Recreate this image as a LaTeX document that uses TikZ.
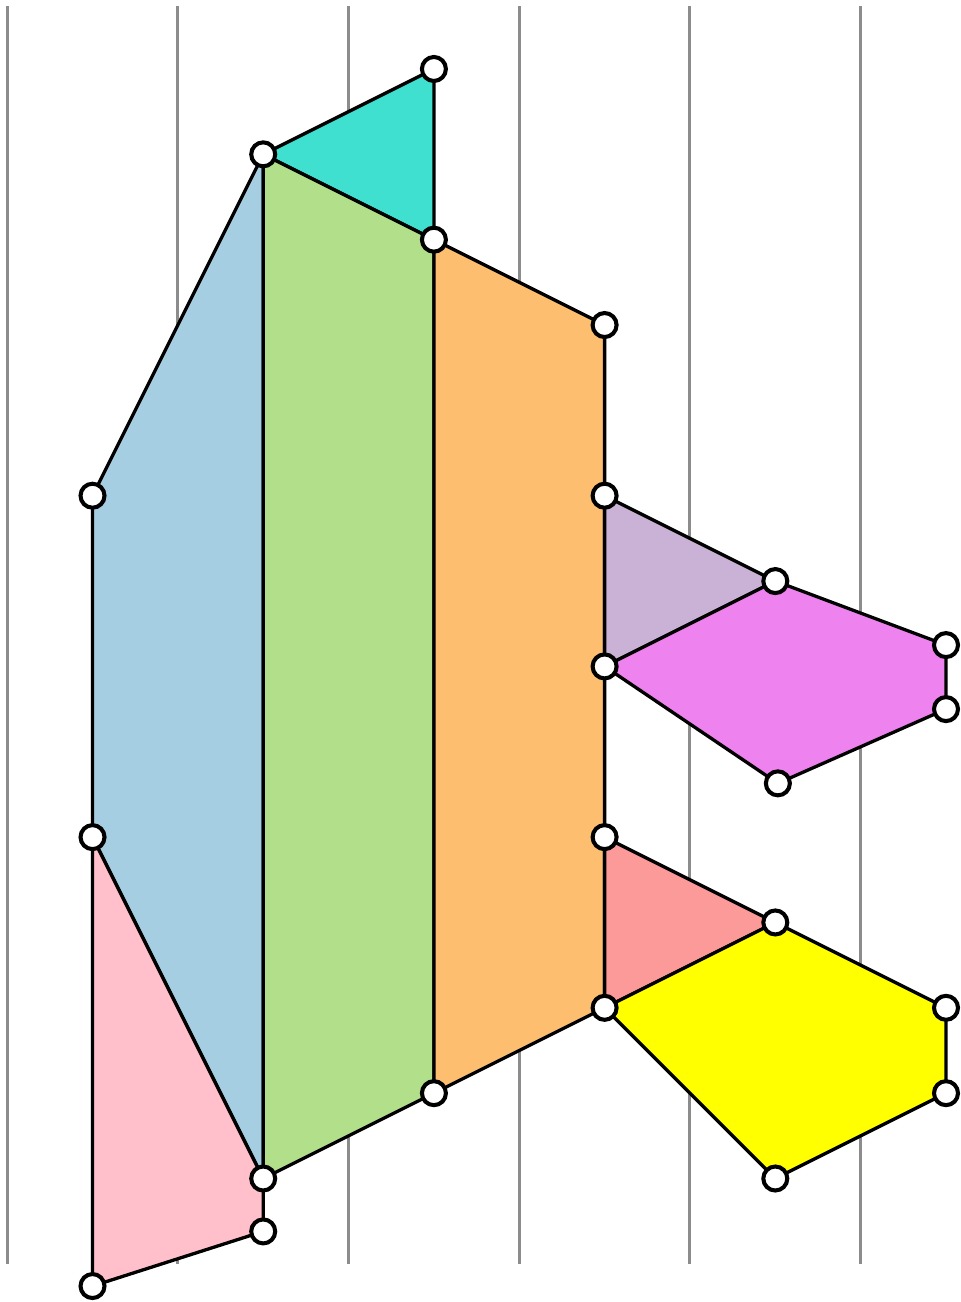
\documentclass[tikz,border=0pt]{standalone}
\usetikzlibrary{calc}
\definecolor{turq}{HTML}{40E0D0}
\definecolor{skyblue}{HTML}{A6CEE3}
\definecolor{leafgreen}{HTML}{B2DF8A}
\definecolor{apricot}{HTML}{FDBF6F}
\definecolor{lilac}{HTML}{CAB2D6}
\definecolor{orchid}{HTML}{EE82EE}
\definecolor{salmonred}{HTML}{FB9A99}
\definecolor{lemon}{HTML}{FFFF00}
\definecolor{blush}{HTML}{FFC0CB}
\definecolor{rulegray}{HTML}{8C8C8C}
\tikzset{
  face/.style={draw=black,line width=1.1pt,line join=round},
  rule/.style={rulegray,line width=1pt},
  vertex/.style={circle,draw=black,fill=white,line width=1.35pt,minimum size=8pt,inner sep=0pt}
}

\begin{document}
\begin{tikzpicture}
        \useasboundingbox (-0.084,0.808) rectangle (11.175,-14.447);
        \foreach \x in {0,2,...,10}
            \draw[rule] (\x,0.74) -- (\x,-14);
        % vertices
        \coordinate (a) at (5,0);      \coordinate (b) at (3,-1);
        \coordinate (c) at (5,-2);     \coordinate (d) at (7,-3);
        \coordinate (e) at (1,-5);     \coordinate (f) at (7,-5);
        \coordinate (g) at (9,-6);     \coordinate (h) at (11,-6.75);
        \coordinate (i) at (7,-7);     \coordinate (j) at (11,-7.5);
        \coordinate (k) at (9.03,-8.37);
        \coordinate (l) at (1,-9);     \coordinate (m) at (7,-9);
        \coordinate (n) at (9,-10);    \coordinate (o) at (7,-11);
        \coordinate (p) at (11,-11);   \coordinate (q) at (5,-12);
        \coordinate (r) at (11,-12);   \coordinate (s) at (3,-13);
        \coordinate (t) at (9,-13);    \coordinate (u) at (3,-13.62);
        \coordinate (v) at (1,-14.26);
        % faces
        \filldraw[face,fill=turq] (b) -- (a) -- (c) -- cycle;
        \filldraw[face,fill=skyblue] (b) -- (e) -- (l) -- (s) -- cycle;
        \filldraw[face,fill=leafgreen] (b) -- (c) -- (q) -- (s) -- cycle;
        \filldraw[face,fill=apricot] (c) -- (d) -- (o) -- (q) -- cycle;
        \filldraw[face,fill=lilac] (f) -- (g) -- (i) -- cycle;
        \filldraw[face,fill=orchid] (g) -- (h) -- (j) -- (k) -- (i) -- cycle;
        \filldraw[face,fill=salmonred] (m) -- (n) -- (o) -- cycle;
        \filldraw[face,fill=lemon] (n) -- (p) -- (r) -- (t) -- (o) -- cycle;
        \filldraw[face,fill=blush] (l) -- (s) -- (u) -- (v) -- cycle;
        \foreach \p in {a,b,c,d,e,f,g,h,i,j,k,l,m,n,o,p,q,r,s,t,u,v}
            \node[vertex] (v\p) at (\p) {};
      \end{tikzpicture}
\end{document}
